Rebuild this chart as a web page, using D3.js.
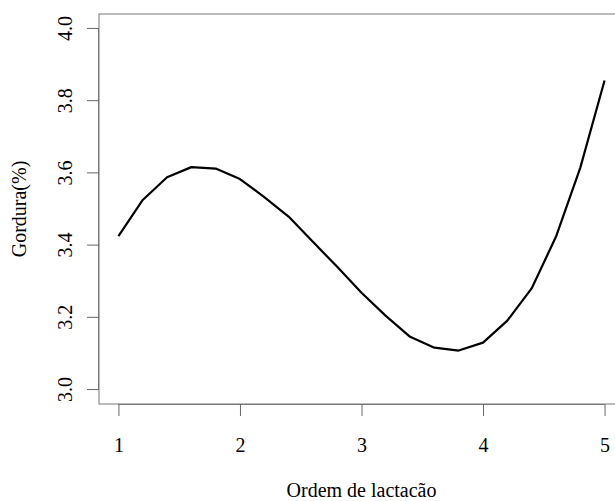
<!DOCTYPE html>
<html>
<head>
<meta charset="utf-8">
<script src="https://cdn.jsdelivr.net/npm/d3@7"></script>
<style>
	body { margin: 0; background: #fff; }
	text { font-family: "Liberation Serif", "Times New Roman", serif; fill: #000; }
</style>
</head>
<body>
<div id="chart"></div>
<script>
// ordem de lactacao (x) and gordura % (y)
const ordem = [1.0, 1.2, 1.4, 1.6, 1.8, 2.0, 2.2, 2.4, 2.6, 2.8, 3.0, 3.2, 3.4, 3.6, 3.8, 4.0, 4.2, 4.4, 4.6, 4.8, 5.0];
const gordura = [3.425, 3.525, 3.588, 3.616, 3.612, 3.583, 3.533, 3.479, 3.409, 3.340, 3.268, 3.204, 3.146, 3.116, 3.108, 3.130, 3.191, 3.280, 3.423, 3.614, 3.856];
const xTicks = [1, 2, 3, 4, 5];
const yTicks = [3.0, 3.2, 3.4, 3.6, 3.8, 4.0];

const w = 615;
const h = 501;
const padL = 99;
const padR = 624;
const padT = 14;
const padB = 404;
const serif = '"Liberation Serif", "Times New Roman", serif';

const xScale = d3.scaleLinear().domain([0.84, 5.16]).range([padL, padR]);
const yScale = d3.scaleLinear().domain([2.96, 4.04]).range([padB, padT]);

const svg = d3.select('#chart')
	.append('svg')
	.attr('width', w)
	.attr('height', h);

// plot box
svg.append('rect')
	.attr('x', padL)
	.attr('y', padT)
	.attr('width', padR - padL)
	.attr('height', padB - padT)
	.attr('fill', 'none')
	.attr('stroke', '#777')
	.attr('stroke-width', 1);

const xAxis = d3.axisBottom(xScale).tickValues(xTicks).tickFormat(d3.format('d')).tickSize(12).tickPadding(22);
const yAxis = d3.axisLeft(yScale).tickValues(yTicks).tickFormat(d3.format('.1f')).tickSize(12).tickPadding(15);

const gx = svg.append('g')
	.attr('id', 'x-axis')
	.attr('transform', `translate(0, ${padB})`)
	.call(xAxis)
	.attr('font-family', serif)
	.attr('font-size', 20);
gx.select('.domain')
	.attr('d', `M${xScale(1)},0.5H${xScale(5)}`)
	.attr('stroke', '#777');
gx.selectAll('line').attr('stroke', '#666');
gx.selectAll('text')
	.attr('dy', 0)
	.attr('y', 48)
	.style('font-family', serif)
	.style('font-size', '20px');

const gy = svg.append('g')
	.attr('id', 'y-axis')
	.attr('transform', `translate(${padL}, 0)`)
	.call(yAxis)
	.attr('font-family', serif)
	.attr('font-size', 20);
gy.select('.domain')
	.attr('d', `M-0.5,${yScale(3)}V${yScale(4)}`)
	.attr('stroke', '#777');
gy.selectAll('line').attr('stroke', '#666');
gy.selectAll('.tick').attr('transform', null);
gy.selectAll('.tick line')
	.attr('transform', d => `translate(0, ${yScale(d)})`);
gy.selectAll('text')
	.attr('x', null)
	.attr('dy', null)
	.attr('text-anchor', 'middle')
	.attr('transform', d => `translate(-27, ${yScale(d)}) rotate(-90)`)
	.attr('y', 0)
	.style('font-family', serif)
	.style('font-size', '20px');

const line = d3.line()
	.x((d, i) => xScale(ordem[i]))
	.y(d => yScale(d));

svg.append('path')
	.datum(gordura)
	.attr('d', line)
	.attr('fill', 'none')
	.attr('stroke', '#000')
	.attr('stroke-width', 2.2)
	.attr('stroke-linejoin', 'round');

svg.append('text')
	.attr('x', xScale(3))
	.attr('y', 497)
	.attr('text-anchor', 'middle')
	.style('font-size', '20px')
	.text('Ordem de lactacão');

svg.append('text')
	.attr('transform', `translate(26, ${(padT + padB) / 2}) rotate(-90)`)
	.attr('text-anchor', 'middle')
	.style('font-size', '20px')
	.text('Gordura(%)');
</script>
</body>
</html>
